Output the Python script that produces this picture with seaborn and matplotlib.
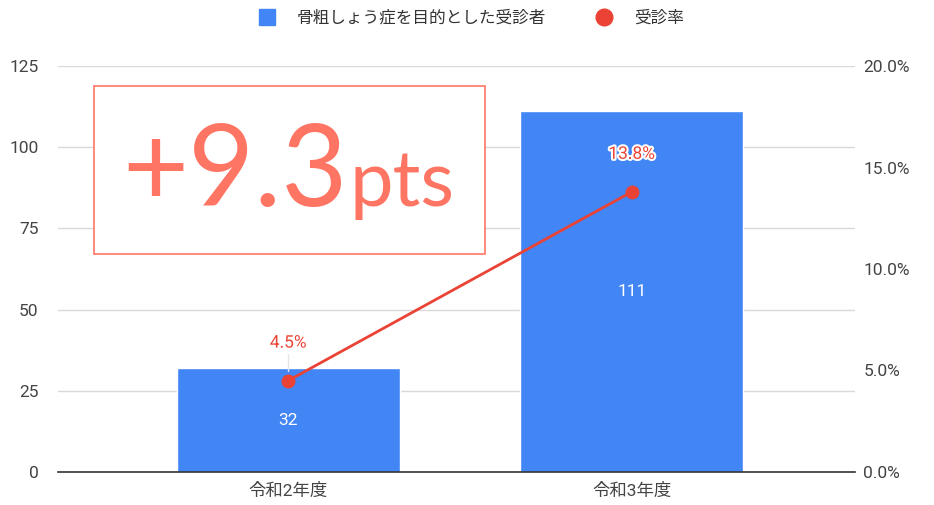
import matplotlib
matplotlib.use('Agg')
import matplotlib.pyplot as plt
import matplotlib.patches as mpatches
import matplotlib.patheffects as pe
from matplotlib.lines import Line2D
import pandas as pd
import seaborn as sns

categories = ['令和2年度', '令和3年度']
patients = [32, 111]
rates = [4.5, 13.8]
left_ticks = [0, 25, 50, 75, 100, 125]
right_ticks = [0, 5, 10, 15, 20]
bar_label = '骨粗しょう症を目的とした受診者'
line_label = '受診率'

BLUE = '#4285F4'
RED = '#EA4335'
SALMON = '#FF7563'

sns.set_theme(style='white')
plt.rcParams['font.family'] = ['Roboto', 'Noto Sans CJK JP', 'DejaVu Sans']

df = pd.DataFrame({'cat': categories, 'n': patients, 'rate': rates})

fig = plt.figure(figsize=(9.34, 5.05), dpi=100)
ax = fig.add_axes([58 / 934, 1 - 472 / 505, (855 - 58) / 934, (472 - 66) / 505])

sns.barplot(data=df, x='cat', y='n', color=BLUE, width=0.65, saturation=1, ax=ax, zorder=2)
ax.set_xlim(-0.67, 1.65)
ax.set_ylim(0, 125)
ax.set_yticks(left_ticks)
ax.set_yticklabels([str(t) for t in left_ticks])
ax.yaxis.grid(True, color='#d9d9d9', lw=1, zorder=0)
ax.set_axisbelow(True)
for s in ['top', 'right', 'left']:
    ax.spines[s].set_visible(False)
ax.spines['bottom'].set_color('#333333')
ax.spines['bottom'].set_linewidth(1.2)
ax.set_xlabel('')
ax.set_ylabel('')
ax.tick_params(axis='both', length=0, labelsize=12.5, colors='#444444')
ax.tick_params(axis='y', pad=14)
ax.tick_params(axis='x', pad=8)

for i, v in enumerate(patients):
    ax.text(i, v / 2, str(v), color='white', ha='center', va='center', fontsize=12.5)

ax2 = ax.twinx()
sns.lineplot(x=[0, 1], y=rates, ax=ax2, color=RED, lw=2, marker='o', markersize=10,
             markeredgewidth=0, zorder=5)
ax2.set_ylim(0, 20)
ax2.set_xlim(-0.67, 1.65)
ax2.set_yticks(right_ticks)
ax2.set_yticklabels([f'{t:.1f}%' for t in right_ticks])
for s in ['top', 'right', 'left', 'bottom']:
    ax2.spines[s].set_visible(False)
ax2.tick_params(axis='y', length=0, labelsize=12.5, colors='#444444', pad=6)
ax2.set_ylabel('')
# faint leader line only shows over white background
ax2.plot([0, 0], [rates[0] + 0.5, rates[0] + 1.3], color='#e6e6e6', lw=1, zorder=4)
for i, r in enumerate(rates):
    ax2.text(i, r + 1.85, f'{r}%', color=RED, ha='center', va='center', fontsize=12.5,
             path_effects=[pe.withStroke(linewidth=3, foreground='white')])

# +9.3pts box
box = mpatches.Rectangle((94 / 934, 1 - 254 / 505), (485 - 94) / 934, (254 - 86) / 505,
                         transform=fig.transFigure, fill=True, facecolor='white',
                         edgecolor=SALMON, lw=1.2, zorder=10)
fig.patches.append(box)
big = fig.text(122 / 934, 1 - 206 / 505, '+9.3', color=SALMON, fontsize=82,
               family=['Lato', 'DejaVu Sans'], ha='left', va='baseline', zorder=11)
fig.canvas.draw()
bb = big.get_window_extent()
fig.text((bb.x1 + 2) / 934, 1 - 206 / 505, 'pts', color=SALMON, fontsize=56,
         family=['Lato', 'DejaVu Sans'], ha='left', va='baseline', zorder=11)

handles = [Line2D([], [], marker='s', color=BLUE, lw=0, markersize=12),
           Line2D([], [], marker='o', color=RED, lw=0, markersize=12)]
fig.legend(handles, [bar_label, line_label], loc='center', bbox_to_anchor=(0.5, 1 - 18 / 505),
           ncol=2, frameon=False, fontsize=12, handletextpad=0.8, columnspacing=2.5,
           labelcolor='#333333')

fig.savefig('out.png', dpi=100)
